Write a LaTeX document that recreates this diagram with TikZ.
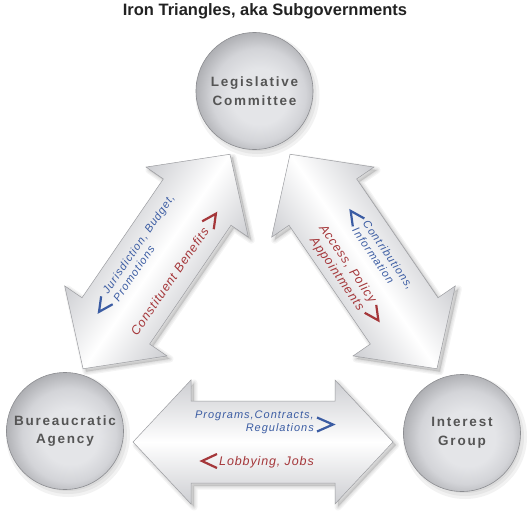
\documentclass[tikz,border=0pt]{standalone}
\usepackage{fontspec}
\setmainfont{Liberation Sans}
\newfontfamily\circfont{Liberation Sans}[LetterSpace=13]
\newfontfamily\bluefont{Liberation Sans}[LetterSpace=9]
\newfontfamily\redfont{Liberation Sans}[LetterSpace=7]
\usetikzlibrary{calc}
\definecolor{ballin}{HTML}{E4E5E8}
\definecolor{ballmid}{HTML}{D3D4D8}
\definecolor{ballout}{HTML}{AEAFB3}
\definecolor{balledge}{HTML}{8C8D91}
\definecolor{circtext}{HTML}{555555}
\definecolor{arrowedge}{HTML}{CDCED2}
\definecolor{arrowline}{HTML}{9C9DA1}
\definecolor{bluetxt}{HTML}{3B5CA3}
\definecolor{redtxt}{HTML}{A5373A}
\definecolor{titletxt}{HTML}{222222}
\pgfdeclareradialshading{ballshade}{\pgfpoint{3bp}{-3bp}}{color(0bp)=(ballin); color(12bp)=(ballin); color(20bp)=(ballmid); color(27bp)=(ballout); color(50bp)=(ballout)}
\tikzset{
  ballnode/.style={circle, minimum size=117pt, inner sep=0pt, shade, shading=ballshade,
    draw=balledge, line width=0.6pt, align=center, text=circtext,
    font=\circfont\bfseries\fontsize{13.5}{18.5}\selectfont},
  dblarrowshape/.style={insert path={(-130,0) -- (-72,-62) -- (-72,-41) -- (72,-41) -- (72,-62)
    -- (130,0) -- (72,62) -- (72,41) -- (-72,41) -- (-72,62) -- cycle}},
  arrowbody/.style={top color=arrowedge, bottom color=arrowedge, middle color=white,
    draw=arrowline, line width=0.5pt},
  shadowlayer/.style={fill=black, fill opacity=0.045, draw=black, draw opacity=0.045, line join=round},
  chev/.style={line width=2.2pt, line join=miter, miter limit=10},
  bluetext/.style={text=bluetxt, font=\bluefont\itshape\fontsize{11}{12.8}\selectfont, inner sep=0pt},
  redtext/.style={text=redtxt, font=\redfont\itshape\fontsize{12.5}{14.5}\selectfont, inner sep=0pt},
}
\newcommand\arrowshadow[2]{%
  \begin{scope}[transform canvas={shift={#1}, rotate=#2}]
    \foreach \w in {7,4.5,2} {\path[shadowlayer, line width=\w pt, dblarrowshape];}
  \end{scope}}
\begin{document}
\begin{tikzpicture}[x=1pt, y=-1pt]
\useasboundingbox (0,0) rectangle (530,514);
% arrow shadows
\arrowshadow{(159.5,264.5)}{55.6}
\arrowshadow{(366.5,264.5)}{-55.6}
\arrowshadow{(266,445)}{0}
% left arrow
\begin{scope}[transform canvas={shift={(156.5,261.5)}, rotate=55.6}]
  \path[arrowbody, dblarrowshape];
  \draw[chev, bluetxt] (-60,-26) -- (-74,-19) -- (-60,-12);
  \node[bluetext, anchor=west, align=left] (jur) at (-55,-18.5) {Jurisdiction, Budget,\\Promotions};
  \node[redtext, anchor=east] (con) at (55,22) {Constituent Benefits};
  \draw[chev, redtxt] (59,15) -- (73,22) -- (59,29);
\end{scope}
% right arrow
\begin{scope}[transform canvas={shift={(363.5,261.5)}, rotate=-55.6}]
  \path[arrowbody, dblarrowshape];
  \draw[chev, bluetxt] (-35,-25) -- (-49,-18) -- (-35,-11);
  \node[bluetext, anchor=west, align=left] (contr) at (-32,-18) {Contributions,\\Information};
  \node[redtext, anchor=east, align=right] (acc) at (38.5,22) {Access, Policy\\Appointments};
  \draw[chev, redtxt] (43,14) -- (57,21) -- (43,28);
\end{scope}
% bottom arrow
\begin{scope}[transform canvas={shift={(263,442)}}]
  \path[arrowbody, dblarrowshape];
  \node[bluetext, anchor=east, align=right] (prog) at (51,-19.5) {Programs,Contracts,\\Regulations};
  \draw[chev, bluetxt] (54,-24.5) -- (70,-17.5) -- (54,-10.5);
  \draw[chev, redtxt] (-46,12) -- (-61,19) -- (-46,26);
  \node[redtext, anchor=base west] (lob) at (-44,23) {Lobbying, Jobs};
\end{scope}
% circles
\coordinate (legc) at (254.5,91);
\coordinate (burc) at (65,431);
\coordinate (intc) at (462,433);
\foreach \c in {legc,burc,intc} {
  \foreach \r in {56,59,62} {\fill[black, opacity=0.05] ($(\c)+(3,4)$) circle[radius=\r pt];}
}
\node[ballnode] (leg) at (legc) {Legislative\\Committee};
\node[ballnode] (bur) at (burc) {Bureaucratic\\Agency};
\node[ballnode] (int) at (intc) {Interest\\Group};
% title
\node[anchor=base, text=titletxt, font=\bfseries\fontsize{16.5}{20}\selectfont, inner sep=0pt] (title) at (265,15) {Iron Triangles, aka Subgovernments};
\end{tikzpicture}
\end{document}
